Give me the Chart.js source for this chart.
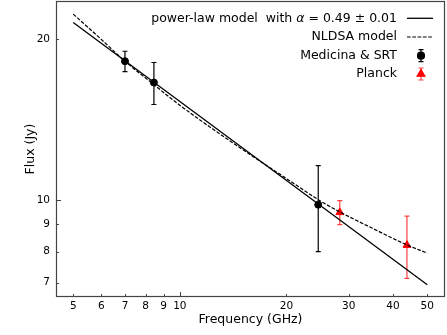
<!DOCTYPE html>
<html>
<head>
<meta charset="utf-8">
<script src="https://cdn.jsdelivr.net/npm/chart.js@4/dist/chart.umd.min.js"></script>
<style>
  body { margin: 0; background: #fff; }
  #chartCanvas { display: block; }
</style>
</head>
<body>
<canvas id="chartCanvas" width="447" height="335"></canvas>
<script>
// Data
const powerLawFreq = [5, 50];
const powerLawFlux = [21.5, 6.94];

const nldsaFreq = [5, 6, 7, 8.45, 10, 15, 20, 25, 28.3, 35, 43.6, 50];
const nldsaFlux = [22.3, 20.0, 18.2, 16.45, 15.05, 12.45, 10.97, 9.95, 9.5, 8.85, 8.25, 7.95];

const medicinaFreq = [7, 8.45, 24.6];
const medicinaFlux = [18.2, 16.6, 9.8];
const medicinaErr = [0.8, 1.5, 1.8];

const planckFreq = [28.3, 43.8];
const planckFlux = [9.48, 8.23];
const planckErr = [0.49, 1.1];

const xTickValues = [5, 6, 7, 8, 9, 10, 20, 30, 40, 50];
const yTickValues = [7, 8, 9, 10, 20];

const FONT = '"DejaVu Sans", sans-serif';
const RED = '#ff0000';
const RED_BAR = 'rgba(255,0,0,0.75)';

const toPoints = (xs, ys) => xs.map((x, i) => ({ x: x, y: ys[i] }));

// error bars, drawn under the markers
const errorBarPlugin = {
    id: 'errorBars',
    beforeDatasetsDraw(chart) {
        const ctx = chart.ctx;
        const xs = chart.scales.x, ys = chart.scales.y;
        const sets = [
            { f: medicinaFreq, s: medicinaFlux, e: medicinaErr, color: '#000' },
            { f: planckFreq, s: planckFlux, e: planckErr, color: RED_BAR },
        ];
        ctx.save();
        ctx.lineWidth = 1.2;
        sets.forEach(set => {
            ctx.strokeStyle = set.color;
            set.f.forEach((f, i) => {
                const px = xs.getPixelForValue(f);
                const top = ys.getPixelForValue(set.s[i] + set.e[i]);
                const bot = ys.getPixelForValue(set.s[i] - set.e[i]);
                ctx.beginPath();
                ctx.moveTo(px, top); ctx.lineTo(px, bot);
                ctx.moveTo(px - 2.5, top); ctx.lineTo(px + 2.5, top);
                ctx.moveTo(px - 2.5, bot); ctx.lineTo(px + 2.5, bot);
                ctx.stroke();
            });
        });
        ctx.restore();
    }
};

// frame and inward ticks
const framePlugin = {
    id: 'frame',
    afterDraw(chart) {
        const ctx = chart.ctx;
        const a = chart.chartArea;
        const xs = chart.scales.x, ys = chart.scales.y;
        ctx.save();
        ctx.strokeStyle = '#444';
        ctx.lineWidth = 1;
        xTickValues.forEach(v => {
            const px = Math.round(xs.getPixelForValue(v)) + 0.5;
            const len = v === 10 ? 5 : 3;
            ctx.beginPath();
            ctx.moveTo(px, a.bottom); ctx.lineTo(px, a.bottom - len);
            ctx.stroke();
        });
        yTickValues.forEach(v => {
            const py = Math.round(ys.getPixelForValue(v)) + 0.5;
            const len = v === 10 ? 5 : 3;
            ctx.beginPath();
            ctx.moveTo(a.left, py); ctx.lineTo(a.left + len, py);
            ctx.stroke();
        });
        ctx.lineWidth = 1.2;
        ctx.strokeRect(a.left + 0.5, a.top + 0.5, a.right - a.left - 1, a.bottom - a.top - 1);
        ctx.restore();
    }
};

// matplotlib-style legend: text right aligned, handle on the right
const legendPlugin = {
    id: 'mplLegend',
    afterDraw(chart) {
        const ctx = chart.ctx;
        const textRight = 397;
        const hx0 = 407, hx1 = 433, hxc = 421;
        const rows = [18.3, 37, 55.7, 74];
        ctx.save();
        ctx.fillStyle = '#000';
        ctx.textBaseline = 'middle';
        const normal = '12.5px ' + FONT;
        const italic = 'italic 12.5px ' + FONT;

        // row 1 with greek alpha in italics
        const parts = [
            { t: 'power-law model  with ', f: normal },
            { t: 'α', f: italic },
            { t: ' = 0.49 ± 0.01', f: normal },
        ];
        let total = 0;
        parts.forEach(p => { ctx.font = p.f; p.w = ctx.measureText(p.t).width; total += p.w; });
        let x = textRight - total;
        ctx.textAlign = 'left';
        parts.forEach(p => { ctx.font = p.f; ctx.fillText(p.t, x, rows[0]); x += p.w; });

        ctx.font = normal;
        ctx.textAlign = 'right';
        ctx.fillText('NLDSA model', textRight, rows[1]);
        ctx.fillText('Medicina & SRT', textRight, rows[2]);
        ctx.fillText('Planck', textRight, rows[3]);

        // handles
        ctx.strokeStyle = '#000';
        ctx.lineWidth = 1.3;
        ctx.beginPath();
        ctx.moveTo(hx0, rows[0]); ctx.lineTo(hx1, rows[0]);
        ctx.stroke();
        ctx.lineWidth = 1.2;
        ctx.setLineDash([3.7, 1.6]);
        ctx.beginPath();
        ctx.moveTo(hx0, rows[1]); ctx.lineTo(hx1, rows[1]);
        ctx.stroke();
        ctx.setLineDash([]);

        const bar = (y, color) => {
            ctx.strokeStyle = color;
            ctx.lineWidth = 1.2;
            ctx.beginPath();
            ctx.moveTo(hxc, y - 6); ctx.lineTo(hxc, y + 6);
            ctx.moveTo(hxc - 2.5, y - 6); ctx.lineTo(hxc + 2.5, y - 6);
            ctx.moveTo(hxc - 2.5, y + 6); ctx.lineTo(hxc + 2.5, y + 6);
            ctx.stroke();
        };
        bar(rows[2], '#000');
        ctx.fillStyle = '#000';
        ctx.strokeStyle = '#000';
        Chart.helpers.drawPoint(ctx, { pointStyle: 'circle', radius: 3.5, rotation: 0, borderWidth: 1 }, hxc, rows[2]);
        bar(rows[3], RED_BAR);
        ctx.fillStyle = RED;
        ctx.strokeStyle = RED;
        Chart.helpers.drawPoint(ctx, { pointStyle: 'triangle', radius: 4.5, rotation: 0, borderWidth: 1 }, hxc, rows[3]);
        ctx.restore();
    }
};

const chart = new Chart(document.getElementById('chartCanvas'), {
    type: 'line',
    data: {
        datasets: [
            {
                label: 'power-law model',
                data: toPoints(powerLawFreq, powerLawFlux),
                borderColor: '#000',
                borderWidth: 1.3,
                pointRadius: 0,
                fill: false,
            },
            {
                label: 'NLDSA model',
                data: toPoints(nldsaFreq, nldsaFlux),
                borderColor: '#000',
                borderWidth: 1.2,
                borderDash: [3.7, 1.6],
                pointRadius: 0,
                cubicInterpolationMode: 'monotone',
                fill: false,
            },
            {
                label: 'Medicina & SRT',
                data: toPoints(medicinaFreq, medicinaFlux),
                showLine: false,
                pointStyle: 'circle',
                pointRadius: 3.5,
                backgroundColor: '#000',
                borderColor: '#000',
            },
            {
                label: 'Planck',
                data: toPoints(planckFreq, planckFlux),
                showLine: false,
                pointStyle: 'triangle',
                pointRadius: 4.5,
                backgroundColor: RED,
                borderColor: RED,
            },
        ],
    },
    options: {
        responsive: false,
        animation: false,
        devicePixelRatio: 1,
        layout: { autoPadding: false, padding: { top: 1, right: 2, left: 0, bottom: 0 } },
        plugins: { legend: { display: false }, tooltip: { enabled: false } },
        scales: {
            x: {
                type: 'logarithmic',
                min: 4.47,
                max: 56.1,
                grid: { display: false, drawTicks: false },
                border: { display: false },
                afterBuildTicks: s => { s.ticks = xTickValues.map(v => ({ value: v })); },
                afterFit: s => { s.height = 38; s.paddingLeft = 0; s.paddingRight = 0; },
                ticks: {
                    autoSkip: false,
                    maxRotation: 0,
                    padding: 3,
                    color: '#000',
                    font: { family: FONT, size: 10.5 },
                    callback: v => String(v),
                },
                title: {
                    display: true,
                    text: 'Frequency (GHz)',
                    color: '#000',
                    font: { family: FONT, size: 12.5 },
                    padding: { top: 0, bottom: 7.5 },
                },
            },
            y: {
                type: 'logarithmic',
                min: 6.58,
                max: 23.6,
                grid: { display: false, drawTicks: false },
                border: { display: false },
                afterBuildTicks: s => { s.ticks = yTickValues.map(v => ({ value: v })); },
                afterFit: s => { s.width = 56; s.paddingTop = 0; s.paddingBottom = 0; },
                ticks: {
                    autoSkip: false,
                    padding: 6,
                    color: '#000',
                    font: { family: FONT, size: 10.5 },
                    callback: v => String(v),
                },
                title: {
                    display: true,
                    text: 'Flux (Jy)',
                    color: '#000',
                    font: { family: FONT, size: 12.5 },
                    padding: { top: 23, bottom: 0 },
                },
            },
        },
    },
    plugins: [errorBarPlugin, framePlugin, legendPlugin],
});
</script>
</body>
</html>
